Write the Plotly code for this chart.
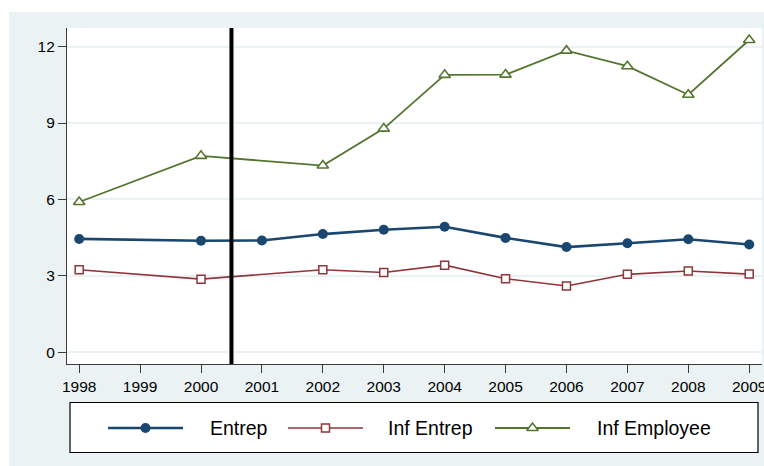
import plotly.graph_objects as go

# ---- data ----
years_entrep = [1998, 2000, 2001, 2002, 2003, 2004, 2005, 2006, 2007, 2008, 2009]
entrep = [4.45, 4.38, 4.39, 4.64, 4.81, 4.93, 4.49, 4.13, 4.28, 4.44, 4.23]

years_inf = [1998, 2000, 2002, 2003, 2004, 2005, 2006, 2007, 2008, 2009]
inf_entrep = [3.24, 2.87, 3.24, 3.13, 3.42, 2.89, 2.60, 3.06, 3.19, 3.07]
inf_employee = [5.90, 7.71, 7.33, 8.78, 10.89, 10.90, 11.84, 11.23, 10.11, 12.26]

x_ticks = list(range(1998, 2010))
y_ticks = [0, 3, 6, 9, 12]
break_year = 2000.5

# ---- styling ----
BG = "#eaf2f3"
C_ENT = "#1a476f"
C_INF = "#90353b"
C_EMP = "#55752f"
FONT = "Liberation Sans, Arial, sans-serif"

W, H = 764, 466
ML, MR, MT, MB = 67, 2, 28, 10
paper_w = W - ML - MR
paper_h = H - MT - MB
paper_bottom_px = H - MB


def py(px):
    """pixel row -> paper y fraction"""
    return (paper_bottom_px - px) / paper_h


def pxx(px):
    """pixel column -> paper x fraction"""
    return (px - ML) / paper_w


plot_bottom = py(364)
key_top = py(394)

series = [
    ("Entrep", years_entrep, entrep, C_ENT, 2.6,
     dict(symbol="circle", size=10, color=C_ENT, line=dict(width=0))),
    ("Inf Entrep", years_inf, inf_entrep, C_INF, 1.6,
     dict(symbol="square", size=8, color="white", line=dict(width=1.5, color=C_INF))),
    ("Inf Employee", years_inf, inf_employee, C_EMP, 1.8,
     dict(symbol="triangle-up", size=10, color="white", line=dict(width=1.6, color=C_EMP))),
]

fig = go.Figure()
for name, xs, ys, col, lw, mk in series:
    fig.add_trace(go.Scatter(
        x=xs, y=ys, name=name, mode="lines+markers",
        line=dict(color=col, width=lw), marker=mk,
        xaxis="x", yaxis="y", showlegend=False, cliponaxis=False,
    ))

# ---- key panel (drawn on a pixel-scaled helper axis) ----
key_row = 428
key_items = [  # line start, line end, label start
    (108, 183, 208),
    (288, 363, 386),
    (495, 570, 595),
]
for (name, xs, ys, col, lw, mk), (a, b, t) in zip(series, key_items):
    fig.add_trace(go.Scatter(
        x=[a, b], y=[key_row, key_row], mode="lines",
        line=dict(color=col, width=lw), xaxis="x2", yaxis="y2",
        showlegend=False, hoverinfo="skip",
    ))
    fig.add_trace(go.Scatter(
        x=[(a + b) / 2], y=[key_row], mode="markers", marker=mk,
        xaxis="x2", yaxis="y2", showlegend=False, hoverinfo="skip",
    ))
    fig.add_annotation(
        x=t, y=key_row, xref="x2", yref="y2", text=name, showarrow=False,
        xanchor="left", yanchor="middle",
        font=dict(family=FONT, size=19.5, color="black"),
    )

shapes = [
    # white margins at top and left edge
    dict(type="rect", xref="paper", yref="paper", x0=pxx(-5), x1=pxx(770),
         y0=py(12), y1=py(-5), fillcolor="white", line=dict(width=0), layer="below"),
    dict(type="rect", xref="paper", yref="paper", x0=pxx(-5), x1=pxx(9),
         y0=py(470), y1=py(-5), fillcolor="white", line=dict(width=0), layer="below"),
    # plot region
    dict(type="rect", xref="paper", yref="paper", x0=0, x1=1,
         y0=plot_bottom, y1=1, fillcolor="white", line=dict(width=0), layer="below"),
    # key frame
    dict(type="rect", xref="x2", yref="y2", x0=70, x1=758, y0=402.5, y1=452.5,
         fillcolor="white", line=dict(color="black", width=1.2), layer="below"),
    # policy break marker
    dict(type="line", xref="x", yref="y domain", x0=break_year, x1=break_year,
         y0=0, y1=1, line=dict(color="black", width=4), layer="above"),
]

axis_common = dict(
    showline=True, linecolor="#3c3c3c", linewidth=1.2,
    ticks="outside", ticklen=8, tickcolor="#3c3c3c", tickwidth=1.2,
    tickfont=dict(family=FONT, size=15.5, color="black"),
    zeroline=False, automargin=False,
)

fig.update_layout(
    width=W, height=H,
    margin=dict(l=ML, r=MR, t=MT, b=MB, pad=0, autoexpand=False),
    paper_bgcolor=BG, plot_bgcolor=BG,
    showlegend=False,
    shapes=shapes,
    xaxis=dict(
        domain=[0, 1], anchor="y", range=[1997.8, 2009.21],
        tickmode="array", tickvals=x_ticks, ticktext=[str(v) for v in x_ticks],
        showgrid=False, ticklabeloverflow="allow", **axis_common,
    ),
    yaxis=dict(
        domain=[plot_bottom, 1], anchor="x", range=[-0.46, 12.73],
        tickmode="array", tickvals=y_ticks, ticktext=[str(v) for v in y_ticks],
        showgrid=True, gridcolor=BG, gridwidth=1.5, **axis_common,
    ),
    xaxis2=dict(domain=[0, 1], anchor="y2", range=[ML, W - MR], visible=False,
                fixedrange=True, automargin=False),
    yaxis2=dict(domain=[0, key_top], anchor="x2", range=[paper_bottom_px, 394],
                visible=False, fixedrange=True, automargin=False),
    font=dict(family=FONT),
)

fig.write_html("out.html")
